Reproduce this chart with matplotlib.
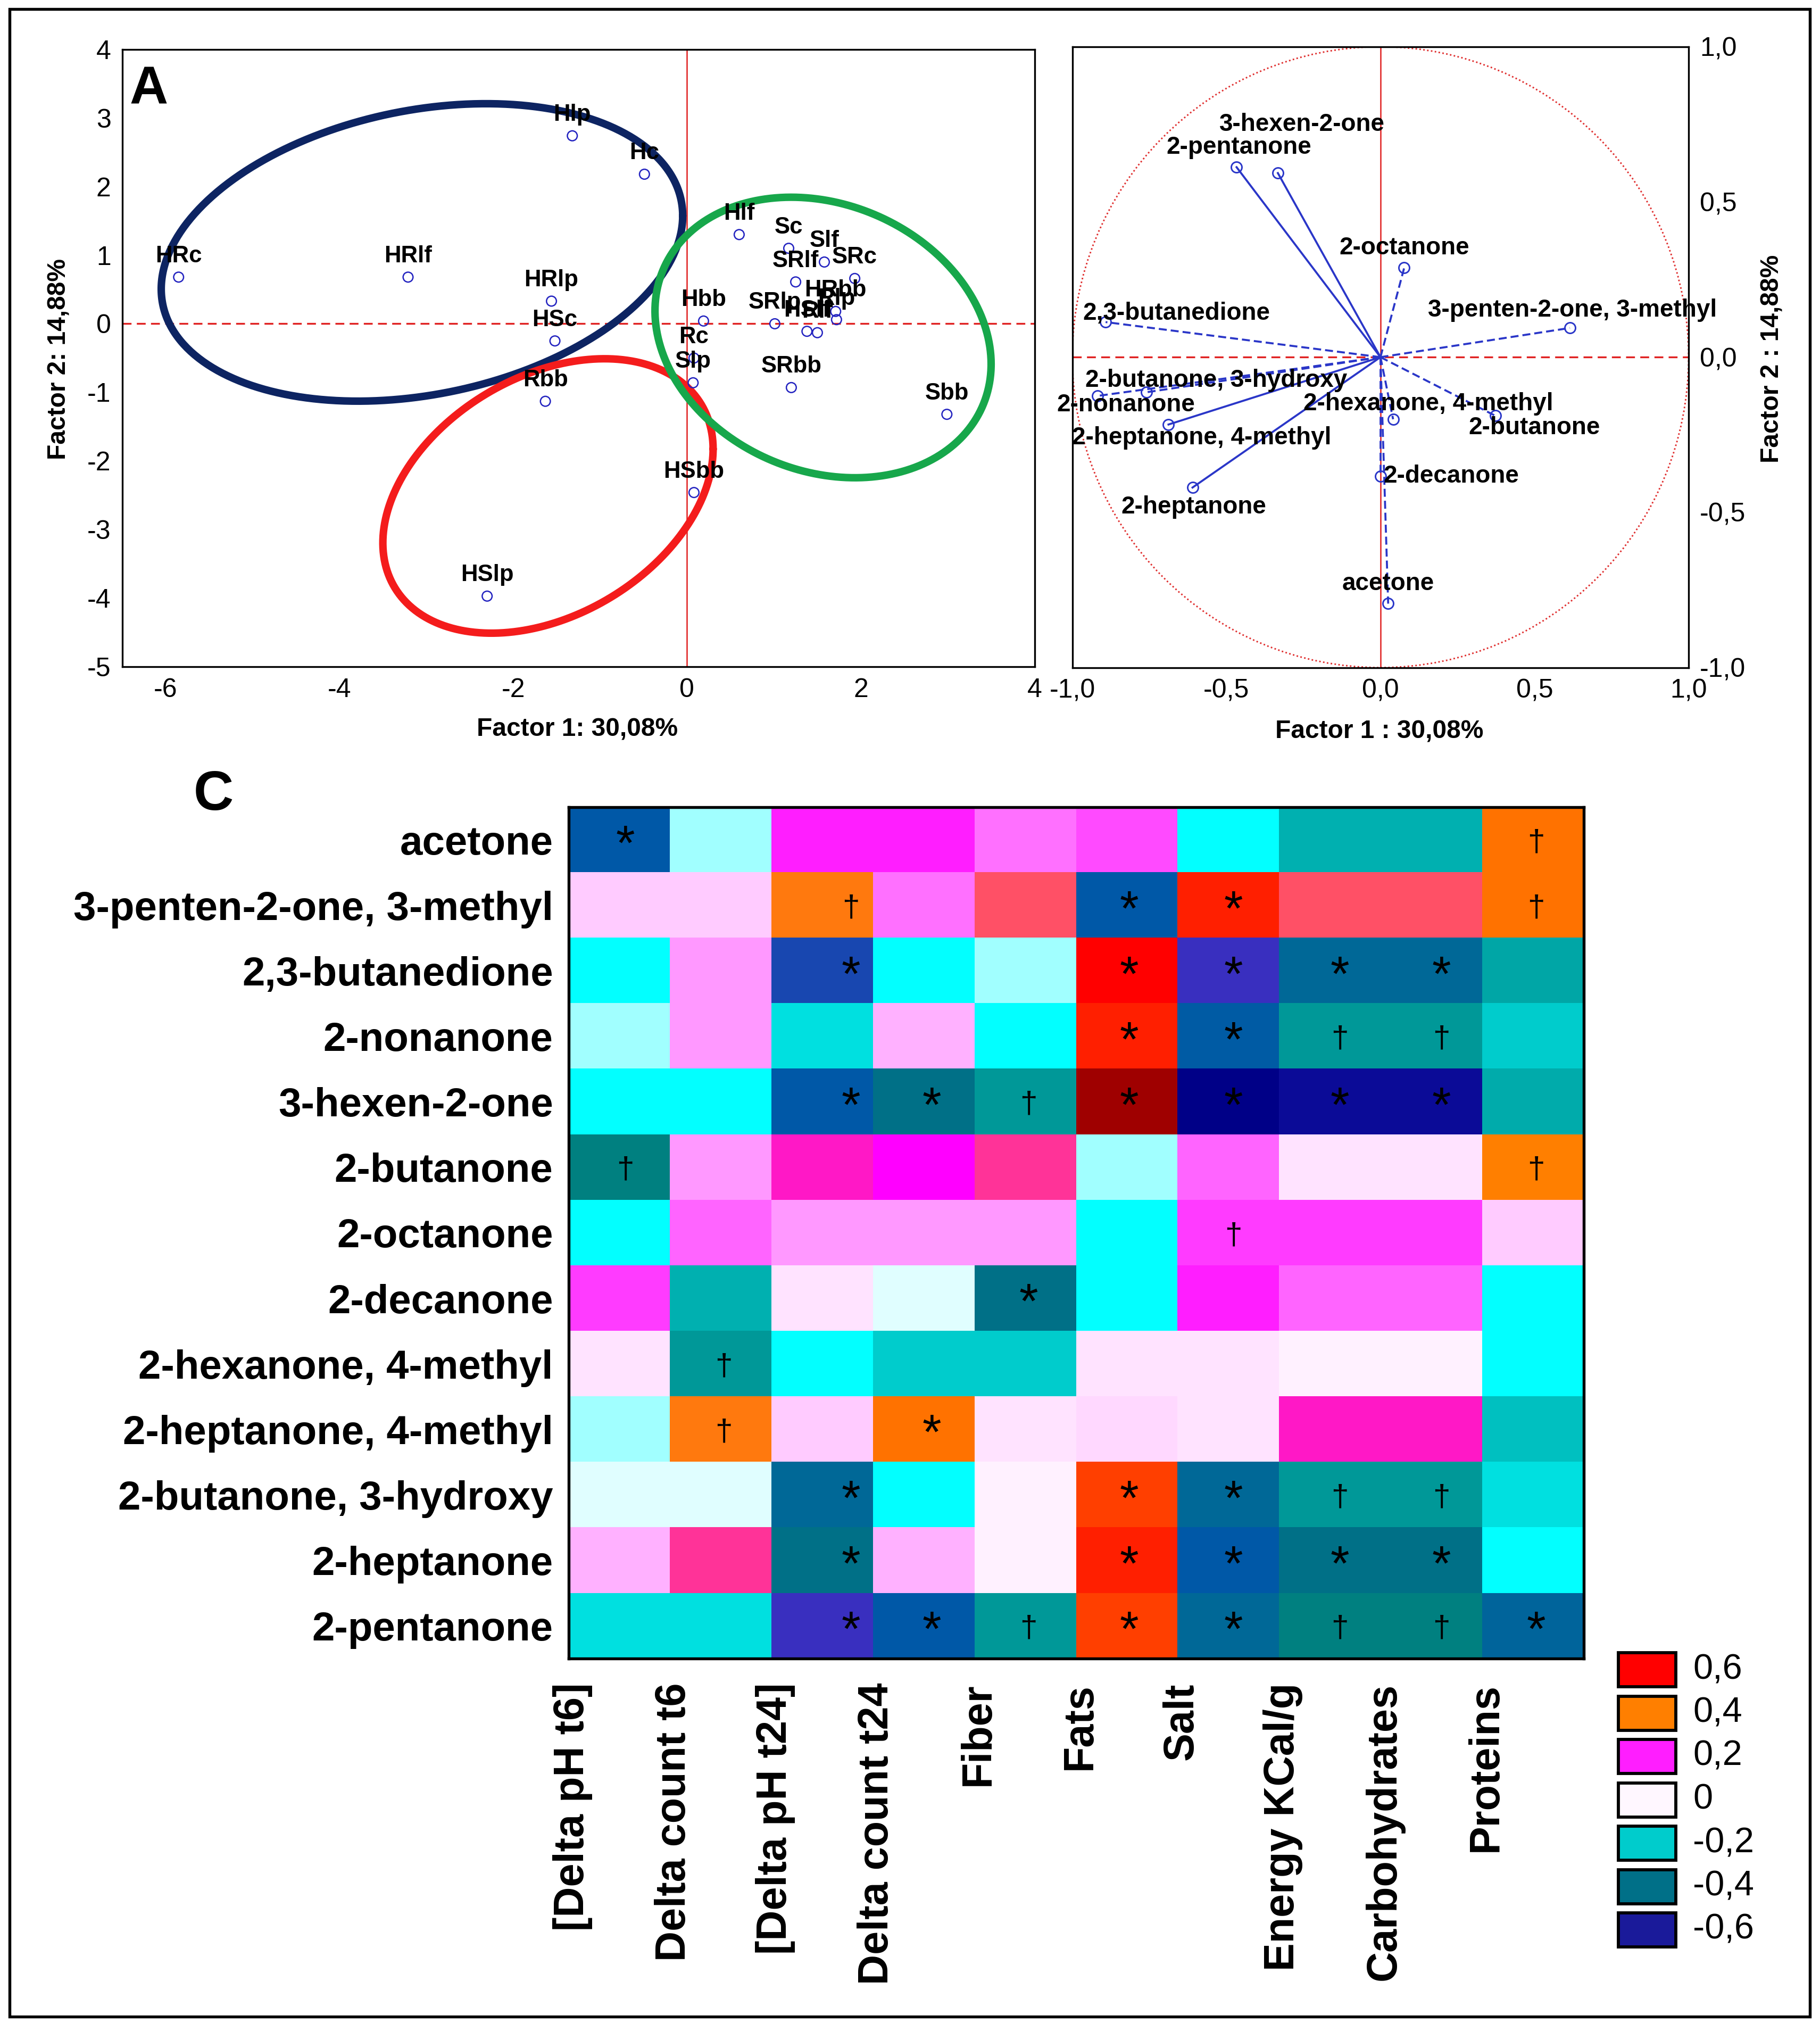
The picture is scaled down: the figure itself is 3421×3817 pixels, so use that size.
import numpy as np
import matplotlib
matplotlib.use("Agg")
import matplotlib.pyplot as plt
from matplotlib.colors import LinearSegmentedColormap, Normalize
from matplotlib.patches import Rectangle, Circle

plt.rcParams['font.family'] = ['Liberation Sans', 'DejaVu Sans']
plt.rcParams['axes.unicode_minus'] = False

# ---- panel A: sample scores ----
samples = ['HRc', 'HRlf', 'Hlp', 'Hc', 'HRlp', 'HSc', 'Rbb', 'HSlp', 'HSbb', 'Slp',
           'Rc', 'Hbb', 'Hlf', 'Sc', 'Slf', 'SRlf', 'SRc', 'HRbb', 'Rlp', 'SRlp',
           'HSlf', 'Rlf', 'SRbb', 'Sbb']
score_f1 = [-5.85, -3.21, -1.32, -0.49, -1.56, -1.52, -1.63, -2.30, 0.08, 0.07,
            0.08, 0.19, 0.60, 1.17, 1.58, 1.25, 1.93, 1.71, 1.72, 1.01,
            1.38, 1.50, 1.20, 2.99]
score_f2 = [0.68, 0.68, 2.74, 2.18, 0.33, -0.25, -1.13, -3.97, -2.46, -0.86,
            -0.50, 0.04, 1.30, 1.10, 0.90, 0.61, 0.66, 0.18, 0.06, 0.00,
            -0.11, -0.13, -0.93, -1.32]

# group ellipses (centre, shape matrix)
ell_centers = [(-3.05, 1.04), (-1.60, -2.51), (1.565, -0.20)]
ell_shapes = [[[9.0, 1.6], [1.6, 4.7]],
              [[3.61, 1.3], [1.3, 4.0]],
              [[3.74, -0.75], [-0.75, 4.18]]]
ell_colors = ['#0d2462', '#f41c1c', '#17a74b']

# ---- panel B: variable loadings ----
compounds = ['2-pentanone', '3-hexen-2-one', '2-octanone', '3-penten-2-one, 3-methyl',
             '2,3-butanedione', '2-butanone, 3-hydroxy', '2-nonanone',
             '2-heptanone, 4-methyl', '2-hexanone, 4-methyl', '2-butanone',
             '2-decanone', '2-heptanone', 'acetone']
load_f1 = [-0.467, -0.333, 0.077, 0.615, -0.892, -0.759, -0.919, -0.688, 0.041,
           0.373, 0.0, -0.61, 0.025]
load_f2 = [0.612, 0.593, 0.288, 0.094, 0.113, -0.113, -0.125, -0.217, -0.20,
           -0.189, -0.384, -0.42, -0.794]
dashed = [False, False, True, True, True, True, True, False, True, True, True, False, True]
label_off = [(1, 9), (11, 22), (0, 9), (1, 8), (32, 4), (31.5, 5.3), (13, -4),
             (15, -6), (16, 7), (17.6, -5.5), (32, 0), (0.5, -8.7), (0, 9)]

# ---- panel C: correlation heatmap ----
rows = ['acetone', '3-penten-2-one, 3-methyl', '2,3-butanedione', '2-nonanone',
        '3-hexen-2-one', '2-butanone', '2-octanone', '2-decanone',
        '2-hexanone, 4-methyl', '2-heptanone, 4-methyl', '2-butanone, 3-hydroxy',
        '2-heptanone', '2-pentanone']
cols = ['[Delta pH t6]', 'Delta count t6', '[Delta pH t24]', 'Delta count t24',
        'Fiber', 'Fats', 'Salt', 'Energy KCal/g', 'Carbohydrates', 'Proteins']
corr = [
    [-0.50, -0.05, 0.20, 0.20, 0.14, 0.17, -0.10, -0.25, -0.25, 0.43],
    [0.06, 0.06, 0.39, 0.14, 0.33, -0.50, 0.55, 0.33, 0.33, 0.43],
    [-0.10, 0.10, -0.53, -0.10, -0.05, 0.60, -0.57, -0.45, -0.45, -0.27],
    [-0.05, 0.10, -0.15, 0.08, -0.10, 0.55, -0.49, -0.30, -0.30, -0.20],
    [-0.10, -0.10, -0.50, -0.40, -0.30, 0.70, -0.72, -0.66, -0.66, -0.26],
    [-0.35, 0.10, 0.25, 0.22, 0.28, -0.05, 0.15, 0.03, 0.03, 0.40],
    [-0.10, 0.15, 0.10, 0.10, 0.10, -0.10, 0.18, 0.18, 0.18, 0.06],
    [0.18, -0.25, 0.03, -0.02, -0.40, -0.10, 0.20, 0.15, 0.15, -0.10],
    [0.03, -0.30, -0.10, -0.20, -0.20, 0.03, 0.03, 0.01, 0.01, -0.10],
    [-0.05, 0.39, 0.06, 0.43, 0.03, 0.045, 0.03, 0.25, 0.25, -0.22],
    [-0.02, -0.02, -0.45, -0.10, 0.01, 0.50, -0.45, -0.30, -0.30, -0.15],
    [0.08, 0.28, -0.40, 0.08, 0.01, 0.55, -0.50, -0.40, -0.40, -0.10],
    [-0.15, -0.15, -0.57, -0.50, -0.30, 0.50, -0.45, -0.35, -0.35, -0.46],
]
sig = ['*........†',
       '..†..**..†',
       '..*..****.',
       '.....**††.',
       '..**†****.',
       '†........†',
       '......†...',
       '....*.....',
       '.†........',
       '.†.*......',
       '..*..**††.',
       '..*..****.',
       '..**†**††*']
legend_vals = [0.6, 0.4, 0.2, 0.0, -0.2, -0.4, -0.6]
legend_txt = ['0,6', '0,4', '0,2', '0', '-0,2', '-0,4', '-0,6']

# Statistica-like colour scale
anchors = [(-0.80, '#000078'), (-0.72, '#000088'), (-0.66, '#0c0c98'), (-0.60, '#1a1a9a'),
           (-0.57, '#3a30c0'), (-0.53, '#1848b0'), (-0.50, '#0058a8'), (-0.45, '#006898'),
           (-0.40, '#007088'), (-0.35, '#008080'), (-0.30, '#009898'), (-0.25, '#00b0b0'),
           (-0.20, '#00cccc'), (-0.15, '#00e0e0'), (-0.10, '#00ffff'), (-0.05, '#a0ffff'),
           (-0.02, '#e0ffff'), (0.00, '#fff8ff'), (0.03, '#ffe4ff'), (0.06, '#ffccff'),
           (0.10, '#ff99ff'), (0.15, '#ff66ff'), (0.20, '#ff20ff'), (0.22, '#ff00ff'),
           (0.25, '#ff18c8'), (0.28, '#ff3399'), (0.33, '#ff5068'), (0.40, '#ff8000'),
           (0.45, '#ff6a00'), (0.50, '#ff4000'), (0.55, '#ff2000'), (0.60, '#ff0000'),
           (0.70, '#a00000'), (0.80, '#800000')]
vmin, vmax = -0.8, 0.8
cmap = LinearSegmentedColormap.from_list(
    'stat', [((v - vmin) / (vmax - vmin), c) for v, c in anchors], N=1024)
norm = Normalize(vmin, vmax)

W, H = 3421, 3817
DPI = 300
fig = plt.figure(figsize=(W / DPI, H / DPI), dpi=DPI)

# ================= A =================
axA = fig.add_axes([0.0671, 0.6717, 0.5014, 0.3040])
axA.set_xlim(-6.5, 4)
axA.set_ylim(-5, 4)
axA.axhline(0, color='#e02020', lw=0.8, ls=(0, (5, 3)))
axA.axvline(0, color='#e02020', lw=0.6)
t = np.linspace(0, 2 * np.pi, 400)
for (cx, cy), S, col in zip(ell_centers, ell_shapes, ell_colors):
    L = np.linalg.cholesky(np.array(S))
    p = L @ np.vstack([np.cos(t), np.sin(t)])
    axA.plot(cx + p[0], cy + p[1], color=col, lw=3.4, solid_capstyle='round')
axA.scatter(score_f1, score_f2, s=20, facecolors='none', edgecolors='#2323c0',
            linewidths=0.6, zorder=5)
for name, x, y in zip(samples, score_f1, score_f2):
    axA.annotate(name, (x, y), xytext=(0, 9.5), textcoords='offset points',
                 ha='center', va='center', fontsize=10.5, fontweight='bold', zorder=6)
axA.set_xticks([-6, -4, -2, 0, 2, 4])
axA.set_yticks([-5, -4, -3, -2, -1, 0, 1, 2, 3, 4])
axA.tick_params(length=0, labelsize=12, pad=5)
for s in axA.spines.values():
    s.set_linewidth(0.8)
fig.text(0.0816, 0.9555, 'A', fontsize=24, fontweight='bold', ha='center', va='center')
fig.text(0.3172, 0.6408, 'Factor 1: 30,08%', fontsize=11.5, fontweight='bold',
         ha='center', va='center')
fig.text(0.0324, 0.8232, 'Factor 2: 14,88%', fontsize=11.5, fontweight='bold',
         ha='center', va='center', rotation=90)

# ================= B =================
axB = fig.add_axes([0.5892, 0.6713, 0.3386, 0.3057])
axB.set_xlim(-1, 1)
axB.set_ylim(-1, 1)
axB.add_patch(Circle((0, 0), 1, fill=False, ec='#e03030', lw=0.7, ls=(0, (1, 1.5))))
axB.axhline(0, color='#e02020', lw=0.8, ls=(0, (5, 3)))
axB.axvline(0, color='#e02020', lw=0.6)
for name, x, y, d, off in zip(compounds, load_f1, load_f2, dashed, label_off):
    axB.plot([0, x], [0, y], color='#2a36c8', lw=0.9,
             ls=(0, (4, 2)) if d else '-')
    axB.plot([x], [y], 'o', ms=4.8, mfc='none', mec='#2a36c8', mew=0.7)
    axB.annotate(name, (x, y), xytext=off, textcoords='offset points',
                 ha='center', va='center', fontsize=11, fontweight='bold')
ticks = [-1, -0.5, 0, 0.5, 1]
tick_lbl = ['-1,0', '-0,5', '0,0', '0,5', '1,0']
axB.set_xticks(ticks)
axB.set_xticklabels(tick_lbl)
axB.yaxis.tick_right()
axB.set_yticks(ticks)
axB.set_yticklabels(tick_lbl)
axB.tick_params(length=0, labelsize=12, pad=5)
for s in axB.spines.values():
    s.set_linewidth(0.8)
fig.text(0.758, 0.6398, 'Factor 1 : 30,08%', fontsize=11.5, fontweight='bold',
         ha='center', va='center')
fig.text(0.9737, 0.8232, 'Factor 2 : 14,88%', fontsize=11.5, fontweight='bold',
         ha='center', va='center', rotation=90)

# ================= C =================
c_rect = [0.3124, 0.1834, 0.5577, 0.4192]
axC = fig.add_axes(c_rect)
axC.imshow(np.array(corr), cmap=cmap, norm=norm, aspect='auto',
           interpolation='nearest', extent=(0, len(cols), len(rows), 0))
mark_dx = [0.56, 0.53, 0.78, 0.58, 0.53, 0.52, 0.55, 0.60, 0.60, 0.53]
star_fs, dag_fs = 22, 14
row_px = c_rect[3] * H / len(rows)
star_shift = 0.40 * star_fs * DPI / 72 / row_px   # lift of the '*' glyph above baseline
for i, line in enumerate(sig):
    for j, ch in enumerate(line):
        if ch == '*':
            axC.text(j + mark_dx[j], i + 0.5 + star_shift, ch, ha='center',
                     va='baseline', fontsize=star_fs, color='black')
        elif ch == '†':
            axC.text(j + mark_dx[j], i + 0.55, ch, ha='center', va='center',
                     fontsize=dag_fs, color='black')
axC.set_yticks(np.arange(len(rows)) + 0.5)
axC.set_yticklabels(rows, fontsize=18.3, fontweight='bold')
axC.set_xticks(np.arange(len(cols)) + 0.04)
axC.set_xticklabels(cols, rotation=90, fontsize=19, fontweight='bold', va='top')
axC.tick_params(length=0)
axC.tick_params(axis='y', pad=7)
axC.tick_params(axis='x', pad=11)
for s in axC.spines.values():
    s.set_linewidth(1.3)
fig.text(0.1172, 0.6081, 'C', fontsize=25, ha='center', va='center',
         family=['Liberation Sans Narrow', 'Liberation Sans'], fontweight='bold')

# discrete legend
for k, (v, lab) in enumerate(zip(legend_vals, legend_txt)):
    top = 3106 + 81.5 * k
    fig.patches.append(Rectangle((3042 / W, 1 - (top + 64) / H), 108 / W, 64 / H,
                                 transform=fig.transFigure, fc=cmap(norm(v)),
                                 ec='black', lw=1.4))
    fig.text(3182 / W, 1 - (top + 32) / H, lab, fontsize=16, ha='left', va='center')

# outer frame
fig.patches.append(Rectangle((18 / W, 1 - 3790 / H), (3402 - 18) / W, (3790 - 17) / H,
                             transform=fig.transFigure, fill=False, ec='black', lw=1.3))

fig.savefig('out.png', dpi=DPI)
